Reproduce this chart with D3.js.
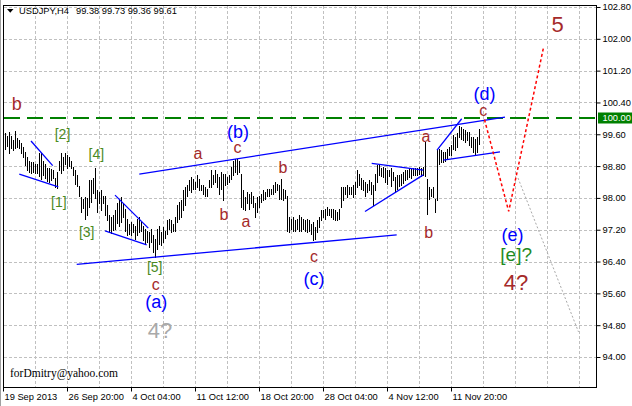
<!DOCTYPE html>
<html><head><meta charset="utf-8">
<script src="https://cdn.jsdelivr.net/npm/d3@7"></script>
<style>
html,body{margin:0;padding:0;background:#fff;}
svg{display:block;}
</style></head>
<body>
<svg id="chart" width="632" height="406"></svg>
<script>
// ---------------- DATA ----------------
const symbol = "USDJPY,H4";
const lastBarOHLC = [99.38, 99.73, 99.36, 99.61];

const highs = [
99.62,99.55,99.65,99.55,99.45,99.68,99.50,
99.45,99.38,99.27,99.15,99.02,98.94,98.90,98.90,98.85,
98.85,99.12,99.12,98.94,98.86,98.76,98.76,98.72,98.69,98.50,98.66,
98.94,99.12,99.02,99.14,99.07,99.02,98.94,98.77,98.69,
98.57,98.30,98.02,97.98,98.02,98.00,98.44,98.44,98.50,98.75,
98.19,98.14,98.19,98.06,98.06,97.81,97.56,97.51,97.56,97.69,97.86,97.94,98.02,
97.87,97.73,97.48,97.35,97.39,97.35,97.30,97.48,97.52,97.40,97.30,97.23,97.18,97.14,97.23,97.06,96.97,97.23,97.30,97.14,97.27,97.18,
97.44,97.48,97.44,97.35,97.52,97.81,97.90,97.94,98.19,98.27,98.32,98.44,98.52,98.48,98.40,98.57,98.48,98.32,98.32,98.27,98.23,98.44,98.69,98.57,98.69,98.61,98.52,98.65,98.61,98.61,98.52,98.57,98.78,98.94,98.99,98.99,98.94,98.61,
98.19,98.02,98.15,98.11,98.15,98.06,97.86,98.02,98.06,98.11,98.19,98.15,98.23,98.23,98.23,98.32,98.40,98.36,98.32,98.48,98.23,98.19,98.06,97.52,97.48,97.52,97.44,97.48,97.56,97.52,97.48,97.44,97.48,97.44,97.35,97.39,97.27,97.44,97.52,97.69,97.69,97.73,97.77,97.73,97.73,97.73,97.69,97.65,97.73,98.27,98.27,98.27,98.32,98.27,98.27,98.32,98.40,98.69,98.60,98.50,
98.44,98.40,98.36,98.44,98.40,98.32,98.60,98.82,98.82,98.76,98.78,98.74,98.69,98.69,98.74,98.65,98.52,98.57,98.58,98.61,98.65,98.69,98.69,98.74,98.72,98.74,98.74,98.74,98.78,98.76,98.78,
99.40,98.48,98.27,98.23,98.27,97.98,99.20,99.24,99.20,99.15,99.15,99.24,99.28,99.32,99.57,99.53,99.62,99.82,
99.78,99.74,99.70,99.66,99.66,99.53,99.53,99.49,99.53,99.73
];
const lows = [
99.22,99.30,99.12,99.25,99.20,99.25,99.28,
99.25,99.12,99.02,98.82,98.70,98.66,98.63,98.66,98.62,
98.62,98.54,98.47,98.57,98.50,98.42,98.40,98.44,98.50,98.28,98.24,
98.70,98.62,98.70,98.86,98.76,98.80,98.74,98.57,98.36,
98.30,98.06,97.64,97.74,97.48,97.56,97.78,97.90,98.12,98.00,
97.64,97.86,97.69,97.88,97.56,97.44,97.18,97.11,97.20,97.22,97.36,97.30,97.40,
97.52,97.18,97.06,97.10,97.06,97.14,96.97,97.06,97.14,97.18,96.93,96.85,96.89,96.76,96.89,96.64,96.51,96.72,96.85,96.81,96.89,97.00,
97.10,97.23,97.14,97.18,97.18,97.40,97.48,97.52,97.69,97.81,98.06,98.19,98.15,98.23,98.23,98.27,98.19,98.19,98.11,98.06,98.06,98.27,98.27,98.36,98.40,98.27,98.11,98.23,97.94,98.32,98.36,98.40,98.48,98.57,98.65,98.61,98.65,97.77,
97.73,97.69,97.86,97.73,97.86,97.77,97.52,97.65,97.77,97.90,97.94,97.98,98.06,98.06,98.11,98.11,98.15,98.19,97.98,97.98,97.94,98.00,97.18,97.14,97.23,97.18,97.18,97.23,97.18,97.18,97.23,97.18,97.14,97.18,97.10,96.93,96.97,97.14,97.27,97.44,97.52,97.48,97.56,97.56,97.52,97.48,97.44,97.44,97.48,97.77,97.94,98.11,98.02,98.11,98.11,98.02,98.11,98.27,98.32,98.23,
98.19,98.06,98.15,98.19,98.11,97.81,98.19,98.40,98.57,98.55,98.52,98.40,98.36,98.55,98.30,98.44,98.15,98.23,98.30,98.32,98.38,98.44,98.48,98.52,98.50,98.58,98.57,98.57,98.61,98.55,98.57,
98.55,97.60,97.98,98.06,98.02,97.65,97.94,98.86,98.90,98.90,98.94,98.99,99.07,99.07,99.24,99.20,99.28,99.53,
99.49,99.45,99.40,99.45,99.32,99.28,99.15,99.07,99.15,99.36
];

const yTicks = [94.00, 94.80, 95.60, 96.40, 97.20, 98.00, 98.80, 99.60, 100.40, 101.20, 102.00, 102.80];
const xTickIdx = [-1, 31, 63, 95, 127, 159, 191, 223];
const xTickLabels = ["19 Sep 2013", "26 Sep 20:00", "4 Oct 04:00", "11 Oct 12:00", "18 Oct 20:00", "28 Oct 04:00", "4 Nov 12:00", "11 Nov 20:00"];
const gridIdx = [15,31,47,63,79,95,111,127,143,159,175,191,207,223,239,255,271,287];
const levelPrice = 100.00;

// trend lines: [[barIndex, price], [barIndex, price]]
const trendLines = [
  [[7.15, 98.60], [26.65, 98.28]],
  [[13, 99.43], [23.85, 98.81]],
  [[55, 98.07], [71.65, 97.24]],
  [[50, 97.17], [70.85, 96.82]],
  [[35.85, 96.33], [195.85, 97.07]],
  [[67.15, 98.60], [250, 100.03]],
  [[183.35, 98.87], [209.15, 98.70]],
  [[180, 97.66], [209.15, 98.58]],
  [[216, 99.20], [228.35, 99.99]],
  [[219.15, 98.95], [247.5, 99.16]]
];
const forecastMain = [[239.75, 99.97], [251.85, 97.66], [269.25, 101.78]];
const forecastAlt = [[256.5, 98.50], [286.75, 94.63]];

const waveText  = ["b","[2]","[1]","[4]","[3]","[5]","c","(a)","4?","a","(b)","c","b","a","b","c","(c)","a","b","(d)","c","(e)","[e]?","4?","5"];
const waveIdx   = [5.85,28.75,26.9,45.65,40.85,74.85,75.4,75.65,77.5,96.5,116.5,116.25,109.5,120.5,139,154.5,154.5,210.5,211.85,239.75,239.15,253.75,255.6,255.5,276.25];
const wavePrice = [100.21,99.48,97.77,98.98,97.02,96.14,95.68,95.24,94.47,98.98,99.51,99.14,97.44,97.28,98.62,96.40,95.82,99.41,96.98,100.45,100.06,96.92,96.41,95.68,102.16];
const waveKind  = ["redL","green","green","green","green","green","red","blue","grey","red","blue","red","red","red","red","red","blue","red","red","blue","red","blue","greenL","redXL","redXL"];

const watermark = "forDmitry@yahoo.com";

// ---------------- STYLES ----------------
const kindStyle = {
  red:    {fill:"#a52a2a", size:16},
  redL:   {fill:"#a52a2a", size:18},
  redXL:  {fill:"#a52a2a", size:22},
  blue:   {fill:"#0000ff", size:18},
  green:  {fill:"#4a8a1e", size:14},
  greenL: {fill:"#1f8a1f", size:19},
  grey:   {fill:"#a9a9a9", size:22}
};
const FONT = "'Liberation Sans', Arial, Helvetica, sans-serif";

// ---------------- CHART ----------------
const svg = d3.select("#chart");
const W = 632, H = 406;
const plot = {left:3.5, top:5.5, right:596.5, bottom:387.5};

const x = d3.scaleLinear().domain([0, 237]).range([5, 479]);
const y = d3.scaleLinear().domain([94, 102.8]).range([357, 7]);

svg.append("rect").attr("width", W).attr("height", H).attr("fill", "#fff");
svg.append("line").attr("x1",0.5).attr("x2",0.5).attr("y1",0).attr("y2",H)
  .attr("stroke","#a0a0a0");

const defs = svg.append("defs");
defs.append("clipPath").attr("id","plotClip").append("rect")
  .attr("x", 4).attr("y", 6).attr("width", 592).attr("height", 381);

const gPlot = svg.append("g").attr("clip-path","url(#plotClip)");

// grid
const gridColor = "#c0c0c0";
gPlot.append("g").selectAll("line").data(yTicks).join("line")
  .attr("x1", 4).attr("x2", 596)
  .attr("y1", d => Math.round(y(d)) + 0.5).attr("y2", d => Math.round(y(d)) + 0.5)
  .attr("stroke", gridColor).attr("stroke-dasharray","3,2").attr("shape-rendering","crispEdges");
gPlot.append("g").selectAll("line").data(gridIdx).join("line")
  .attr("x1", d => Math.round(x(d)) + 0.5).attr("x2", d => Math.round(x(d)) + 0.5)
  .attr("y1", 6).attr("y2", 387)
  .attr("stroke", gridColor).attr("stroke-dasharray","3,2").attr("shape-rendering","crispEdges");

// level line
const yl = Math.round(y(levelPrice));
gPlot.append("line").attr("x1", 4).attr("x2", 596).attr("y1", yl).attr("y2", yl)
  .attr("stroke", "#008000").attr("stroke-width", 2).attr("stroke-dasharray", "16,7");

// bars
gPlot.append("g").selectAll("line").data(highs).join("line")
  .attr("x1", (d,i) => Math.round(x(i)) + 0.5).attr("x2", (d,i) => Math.round(x(i)) + 0.5)
  .attr("y1", d => Math.round(y(d)))
  .attr("y2", (d,i) => Math.max(Math.round(y(lows[i])) + 1, Math.round(y(d)) + 1))
  .attr("stroke", "#000").attr("stroke-width", 1).attr("shape-rendering","crispEdges");

// trend lines
const line = d3.line().x(d => x(d[0])).y(d => y(d[1]));
gPlot.append("g").selectAll("path").data(trendLines).join("path")
  .attr("d", line).attr("fill","none").attr("stroke","#0000ff").attr("stroke-width",1.3);

// forecasts
gPlot.append("path").attr("d", line(forecastMain)).attr("fill","none")
  .attr("stroke","#ff0000").attr("stroke-width",1.5).attr("stroke-dasharray","3,2.5");
gPlot.append("path").attr("d", line(forecastAlt)).attr("fill","none")
  .attr("stroke","#a9a9a9").attr("stroke-width",1).attr("stroke-dasharray","2,2");

// wave labels
gPlot.append("g").selectAll("text").data(waveText).join("text")
  .attr("x", (d,i) => x(waveIdx[i])).attr("y", (d,i) => y(wavePrice[i]))
  .attr("text-anchor","middle")
  .attr("font-family", FONT)
  .attr("font-size", (d,i) => kindStyle[waveKind[i]].size + "px")
  .attr("fill", (d,i) => kindStyle[waveKind[i]].fill)
  .text(d => d);

// watermark
gPlot.append("text").attr("x", 10).attr("y", 376.7)
  .attr("font-family","'Liberation Serif', 'Times New Roman', serif").attr("font-size","11.5px")
  .attr("fill","#000").text(watermark);

// frame
svg.append("rect").attr("x", plot.left).attr("y", plot.top)
  .attr("width", plot.right - plot.left).attr("height", plot.bottom - plot.top)
  .attr("fill","none").attr("stroke","#000").attr("shape-rendering","crispEdges");

// y axis
const yAxis = d3.axisRight(y).tickValues(yTicks).tickFormat(d3.format(".2f")).tickSize(4).tickPadding(2);
const gy = svg.append("g").attr("transform", `translate(${plot.right},0)`).call(yAxis);
gy.select(".domain").remove();
gy.selectAll("text").attr("font-family", FONT).attr("font-size","9.3px").attr("fill","#000");
gy.selectAll("line").attr("stroke","#000");

// level label box
svg.append("rect").attr("x", 598).attr("y", yl - 5.5).attr("width", 34).attr("height", 11)
  .attr("fill", "#008000");
svg.append("text").attr("x", 602.5).attr("y", yl).attr("dy","0.34em")
  .attr("font-family", FONT).attr("font-size","9.3px").attr("fill","#fff")
  .text(d3.format(".2f")(levelPrice));

// x axis
const xAxis = d3.axisBottom(x).tickValues(xTickIdx).tickFormat((d,i) => xTickLabels[i]).tickSize(4);
const gx = svg.append("g").attr("transform", `translate(0,${plot.bottom})`).call(xAxis);
gx.select(".domain").remove();
gx.selectAll("line").attr("stroke","#000");
gx.selectAll("text").attr("font-family", FONT).attr("font-size","9.3px").attr("fill","#000")
  .attr("text-anchor","start").attr("x", 1).attr("y", 12.5).attr("dy", 0);

// header
svg.append("path").attr("d","M7,9 L13.5,9 L10.25,12.8 Z").attr("fill","#000");
svg.append("text").attr("x", 19).attr("y", 14).attr("font-family", FONT).attr("font-size","9.3px")
  .attr("fill","#000").text(symbol);
svg.append("text").attr("x", 76).attr("y", 14).attr("font-family", FONT).attr("font-size","9.3px")
  .attr("fill","#000").text(lastBarOHLC.map(d => d.toFixed(2)).join(" "));
</script>
</body></html>
